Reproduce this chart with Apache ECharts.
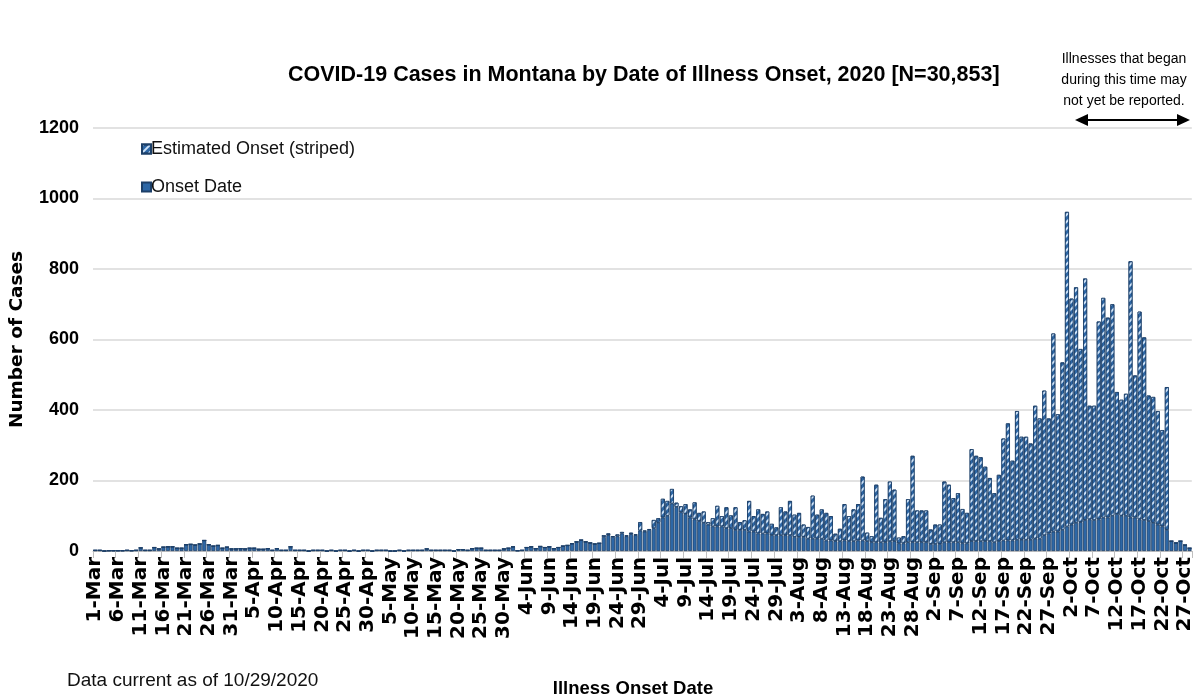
<!DOCTYPE html>
<html>
<head>
<meta charset="utf-8">
<script src="https://cdn.jsdelivr.net/npm/echarts@6/dist/echarts.min.js"></script>
<style>
html,body{margin:0;padding:0;background:#fff;}
#chart{width:1195px;height:698px;}
</style>
</head>
<body>
<div id="chart"></div>
<script>
// ---- DATA ----
var monthNames = ['Mar','Apr','May','Jun','Jul','Aug','Sep','Oct'];
var monthDays = [31,30,31,30,31,31,30,28];

var onsetDate = [
2,2,0,1,1,1,1,2,1,2,
9,2,2,10,6,11,12,12,8,8,
18,19,17,20,30,18,14,16,8,11,
6,6,7,6,8,8,5,5,7,2,
7,2,2,12,2,2,2,0,2,2,
2,0,2,0,2,2,0,2,0,2,
2,0,2,2,2,0,0,2,0,2,
2,2,2,6,2,2,2,2,2,0,
4,4,2,7,8,8,2,2,2,2,
6,8,12,1,2,10,12,7,13,10,
12,7,10,14,16,21,26,31,26,23,
20,22,40,45,40,42,50,42,48,45,
58,55,60,65,80,95,100,135,125,110,
105,95,90,85,80,75,70,70,70,65,
65,60,60,60,55,55,50,50,50,45,
45,45,45,45,40,40,40,35,35,35,
35,30,30,28,28,30,28,28,30,30,
28,25,25,25,25,28,28,22,22,25,
25,25,25,25,20,20,20,25,25,25,
25,22,22,28,28,28,28,28,25,28,
30,30,30,32,32,32,32,35,35,45,
50,55,55,60,70,75,80,82,88,90,
88,90,95,95,100,105,100,100,95,95,
90,88,85,80,75,70,60,28,23,28,
17,8
];

var estimatedOnset = [
0,0,0,0,0,0,0,0,0,0,
0,0,0,0,0,0,0,0,0,0,
0,0,0,0,0,0,0,0,0,0,
0,0,0,0,0,0,0,0,0,0,
0,0,0,0,0,0,0,0,0,0,
0,0,0,0,0,0,0,0,0,0,
0,0,0,0,0,0,0,0,0,0,
0,0,0,0,0,0,0,0,0,0,
0,0,0,0,0,0,0,0,0,0,
0,0,0,0,0,0,0,0,0,0,
0,0,0,0,0,0,0,0,0,0,
0,0,5,5,2,5,4,2,4,2,
24,3,2,23,13,53,42,41,12,17,
28,23,48,23,32,7,23,58,29,59,
36,64,22,27,87,44,68,55,62,32,
22,79,67,97,63,68,35,33,122,68,
83,78,69,21,35,103,71,90,103,181,
24,17,163,69,122,169,146,16,20,122,
245,90,90,90,41,55,55,172,163,125,
139,97,86,261,242,238,211,179,139,188,
289,332,226,365,292,292,273,377,341,410,
326,562,333,475,892,641,668,491,685,322,
324,561,623,567,600,346,329,346,727,403,
589,518,356,357,322,273,405,0,0,0,
0,0
];

var yTicks = [0,200,400,600,800,1000,1200];

// category labels (one per day, 1-Mar .. 28-Oct)
var categories = [];
for (var m = 0; m < monthNames.length; m++) {
  for (var d = 1; d <= monthDays[m]; d++) categories.push(d + '-' + monthNames[m]);
}

var SANS = '"Liberation Sans",Arial,sans-serif';
var WIDE = '"DejaVu Sans","Liberation Sans",Arial,sans-serif';

var chart = echarts.init(document.getElementById('chart'), null, {renderer:'canvas'});
chart.setOption({
  animation: false,
  backgroundColor: '#ffffff',
  title: {
    text: 'COVID-19 Cases in Montana by Date of Illness Onset, 2020 [N=30,853]',
    left: 283, top: 59,
    textStyle: {fontFamily: SANS, fontWeight: 'bold', fontSize: 21.5, color: '#000'}
  },
  legend: {
    orient: 'vertical', left: 136, top: 135, itemGap: 20,
    icon: 'rect', itemWidth: 9, itemHeight: 9,
    textStyle: {fontFamily: SANS, fontSize: 18, color: '#111', padding:[0,0,0,-5]},
    data: ['Estimated Onset (striped)', 'Onset Date']
  },
  grid: {left: 92, right: 3, top: 128, bottom: 147, containLabel: false},
  xAxis: {
    type: 'category', data: categories, boundaryGap: true,
    axisLine: {lineStyle: {color: '#bfbfbf', width: 1}},
    axisTick: {show: true, interval: 4, length: 7, lineStyle: {color: '#bfbfbf'}},
    axisLabel: {interval: 4, rotate: 90, margin: 6, fontFamily: WIDE, fontWeight: 'bold', fontSize: 20, color: '#000'}
  },
  yAxis: {
    type: 'value', min: yTicks[0], max: yTicks[yTicks.length-1], interval: 200,
    name: 'Number of Cases', nameLocation: 'middle', nameGap: 66, nameRotate: 90,
    nameTextStyle: {fontFamily: WIDE, fontWeight: 'bold', fontSize: 18.5, color: '#000'},
    axisLine: {show: false}, axisTick: {show: false},
    axisLabel: {margin: 14, fontFamily: SANS, fontWeight: 'bold', fontSize: 18, color: '#000',
                formatter: function (v) { return String(v); }},
    splitLine: {lineStyle: {color: '#d9d9d9', width: 1.5}}
  },
  series: [
    {
      name: 'Onset Date', type: 'bar', stack: 'c', data: onsetDate,
      barCategoryGap: '12%',
      itemStyle: {color: '#2d67a6', borderColor: '#1c3f68', borderWidth: 0.8}
    },
    {
      name: 'Estimated Onset (striped)', type: 'bar', stack: 'c', data: estimatedOnset,
      barCategoryGap: '12%',
      itemStyle: {
        color: '#2d67a6', borderColor: '#1c3f68', borderWidth: 0.8,
        decal: {symbol: 'rect', symbolSize: 1, color: 'rgba(215,233,252,0.95)',
                dashArrayX: [1, 0], dashArrayY: [2, 3], rotation: -Math.PI / 4}
      }
    }
  ],
  graphic: [
    {type: 'text', left: 67, top: 671,
     style: {text: 'Data current as of 10/29/2020', font: '19px ' + SANS, fill: '#111'}},
    {type: 'text', x: 633, y: 679,
     style: {text: 'Illness Onset Date', font: 'bold 18.5px ' + SANS, fill: '#000', align: 'center'}},
    {type: 'text', x: 1124, y: 49,
     style: {text: 'Illnesses that began\nduring this time may\nnot yet be reported.', font: '14px ' + SANS,
             fill: '#000', align: 'center', lineHeight: 21}},
    {type: 'line', shape: {x1: 1083, y1: 120, x2: 1182, y2: 120}, style: {stroke: '#000', lineWidth: 2}},
    {type: 'polygon', shape: {points: [[1075,120],[1088,114],[1088,126]]}, style: {fill: '#000'}},
    {type: 'polygon', shape: {points: [[1190,120],[1177,114],[1177,126]]}, style: {fill: '#000'}}
  ]
});
</script>
</body>
</html>
